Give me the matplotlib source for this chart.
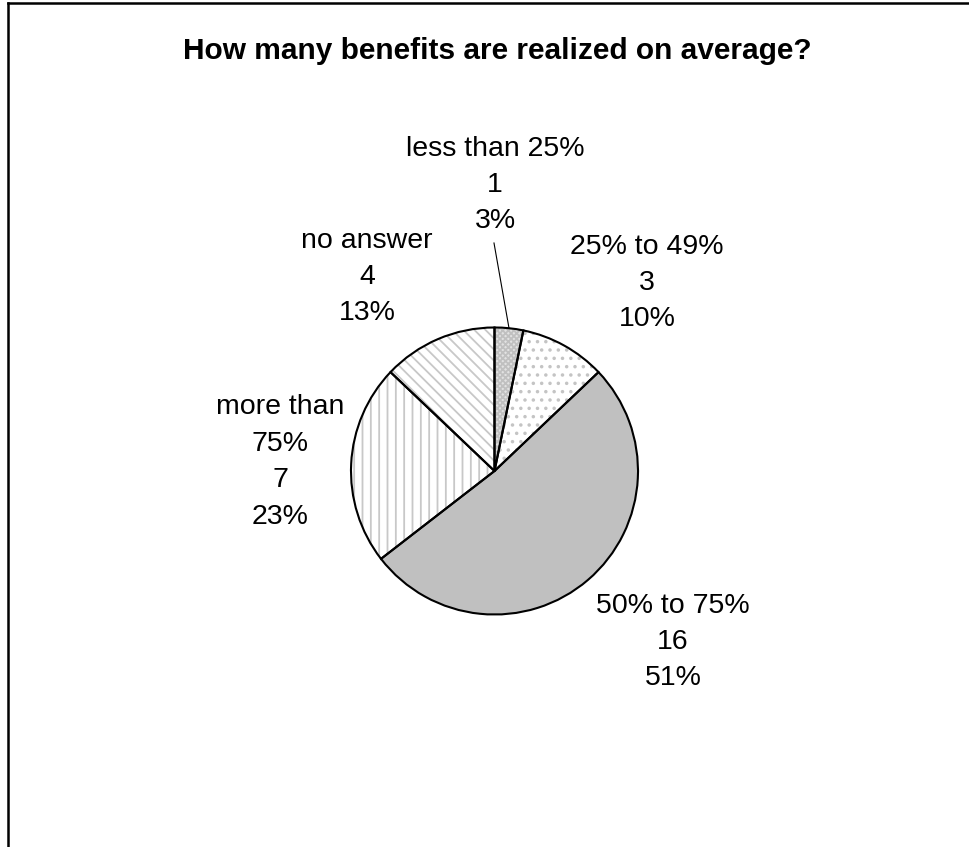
import numpy as np
import matplotlib.pyplot as plt

plt.rcParams['font.family'] = ['Liberation Sans', 'DejaVu Sans']
plt.rcParams['hatch.linewidth'] = 1.3

# data
categories = ['less than 25%', '25% to 49%', '50% to 75%', 'more than\n75%', 'no answer']
counts = [1, 3, 16, 7, 4]
pct_labels = ['3%', '10%', '51%', '23%', '13%']
title = 'How many benefits are realized on average?'

# styles per slice
faces = ['#e2e2e2', 'white', '#c0c0c0', 'white', 'white']
hatches = ['xxxxxx', '..', None, '||', '\\\\\\']
hatch_cols = ['#c0c0c0', '#c4c4c4', '#c0c0c0', '#c8c8c8', '#c8c8c8']

W, H = 969, 847
fig = plt.figure(figsize=(W / 100, H / 100), dpi=100)
ax = fig.add_axes([0, 0, 1, 1])

cx, cy, r = 494.5, H - 471, 143.5

wedges, _ = ax.pie(counts, startangle=90, counterclock=False, center=(cx, cy),
                   radius=r, colors=faces, wedgeprops=dict(linewidth=0))
for w, h, hc in zip(wedges, hatches, hatch_cols):
    w.set_edgecolor(hc)
    if h:
        w.set_hatch(h)

# outlines
ax.pie(counts, startangle=90, counterclock=False, center=(cx, cy), radius=r,
       wedgeprops=dict(fill=False, edgecolor='black', linewidth=1.5))

ax.set_xlim(0, W)
ax.set_ylim(0, H)
ax.set_aspect('equal')
ax.axis('off')

# label positions (pixel layout, y from top)
label_pos = [(495, 185), (647, 283), (673, 642), (280, 462), (367, 277)]
for cat, n, p, (lx, ly) in zip(categories, counts, pct_labels, label_pos):
    ax.text(lx, H - ly, f'{cat}\n{n}\n{p}', ha='center', va='center',
            fontsize=20.5, linespacing=1.52)

# leader line for the small slice
w0 = wedges[0]
mid = np.deg2rad((w0.theta1 + w0.theta2) / 2)
ax.plot([cx + r * np.cos(mid), 494], [cy + r * np.sin(mid), H - 243],
        color='black', lw=0.8)

ax.text(497, H - 51, title, ha='center', va='center', fontsize=21.5, fontweight='bold')

# chart frame (top and left edges visible)
ax.plot([8, W], [H - 3, H - 3], color='black', lw=1.8, clip_on=False)
ax.plot([8, 8], [0, H - 3], color='black', lw=1.8, clip_on=False)

fig.savefig('out.png', dpi=100)
